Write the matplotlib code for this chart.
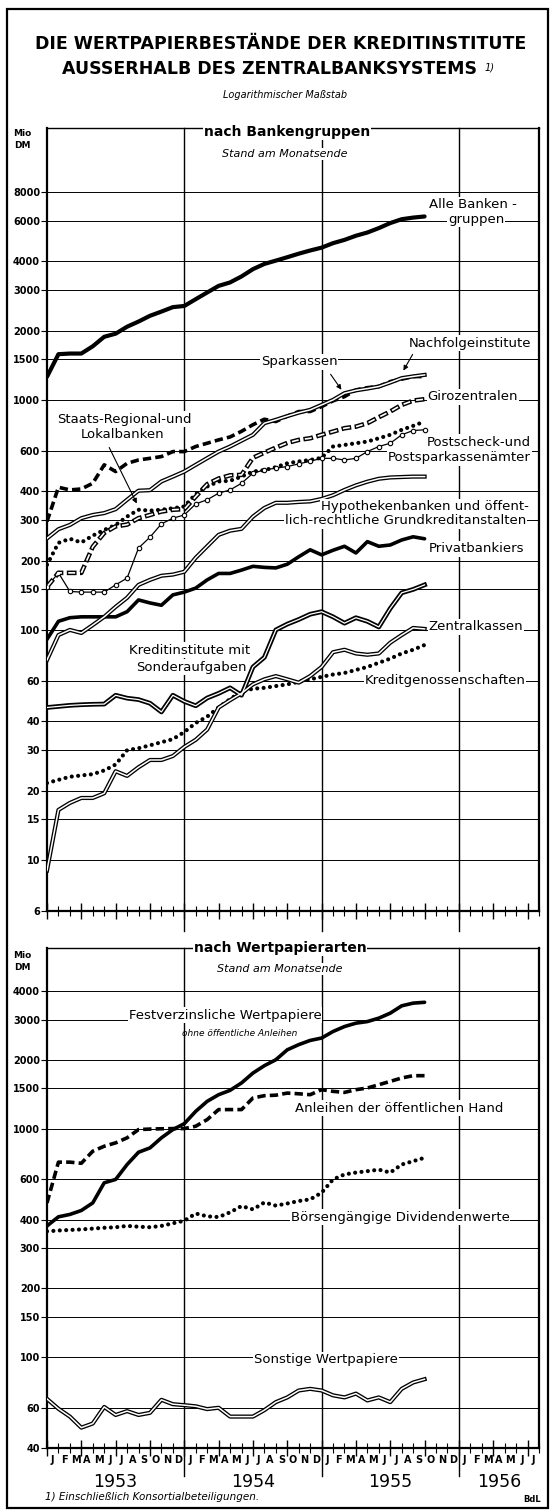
import numpy as np
import matplotlib
matplotlib.use("Agg")
import matplotlib.pyplot as plt
import matplotlib.transforms as mtransforms
from matplotlib.patches import Rectangle, FancyArrowPatch
from matplotlib.ticker import NullLocator, FixedLocator

plt.rcParams["font.family"] = ["DejaVu Sans"]
plt.rcParams["lines.scale_dashes"] = False

# -------------------------------------------------
# Daten: Monatsendstände Dez 1952 ... Sep 1955 (Mio DM)
# -------------------------------------------------
monate = np.arange(34)

# nach Bankengruppen
alle = [1260, 1580, 1590, 1590, 1710, 1880, 1940, 2080, 2190, 2320, 2420, 2530,
        2560, 2740, 2930, 3130, 3240, 3440, 3700, 3900, 4030, 4170, 4320, 4460,
        4590, 4800, 4960, 5170, 5340, 5580, 5870, 6100, 6200, 6270]
sparkassen = [250, 274, 286, 306, 316, 322, 335, 368, 403, 405, 442, 464,
              488, 522, 558, 596, 627, 665, 705, 792, 819, 850, 880, 905,
              951, 1000, 1069, 1100, 1120, 1143, 1190, 1243, 1265, 1284]
nachfolge = [296, 417, 406, 410, 434, 522, 488, 530, 548, 557, 567, 596,
             596, 627, 648, 670, 690, 730, 780, 824, 805, 850, 890, 890,
             935, 990, 1033, 1105, 1130, 1143, 1201, 1230, 1263, 1263]
girozentralen = [154, 177, 177, 177, 230, 264, 282, 287, 306, 316, 327, 333,
                 335, 380, 430, 455, 470, 472, 560, 590, 620, 650, 670, 681,
                 705, 728, 753, 765, 792, 841, 890, 951, 993, 1007]
staats = [192, 239, 249, 240, 257, 272, 286, 311, 333, 330, 333, 338,
          344, 390, 420, 442, 445, 464, 488, 495, 510, 530, 540, 548,
          560, 627, 637, 648, 659, 681, 705, 741, 771, 805]
postscheck = [154, 177, 147, 146, 146, 146, 157, 168, 227, 253, 289, 306,
              316, 353, 368, 393, 406, 434, 480, 496, 505, 513, 527, 541,
              557, 557, 548, 557, 596, 627, 648, 705, 736, 741]
hypotheken = [74, 95, 100, 97, 105, 114, 126, 138, 157, 165, 172, 174,
              179, 206, 231, 259, 270, 275, 311, 339, 357, 357, 360, 362,
              371, 385, 406, 425, 441, 454, 460, 462, 464, 464]
privat = [91, 109, 113, 114, 114, 114, 114, 120, 135, 131, 128, 142,
          146, 152, 165, 176, 176, 182, 189, 187, 186, 193, 208, 223,
          212, 222, 231, 216, 242, 231, 234, 246, 254, 249]
sonder = [46, 46.5, 47, 47.3, 47.5, 47.6, 52, 50.5, 49.8, 48, 44, 52,
          48.9, 46.8, 50.6, 53, 56, 52, 69, 76, 100, 106, 111, 117,
          120, 114, 107, 113, 109, 103, 124, 145, 150, 157]
zentral = [9, 16.5, 17.7, 18.6, 18.6, 19.5, 24.3, 23.2, 25.3, 27.2, 27.2, 28.3,
           31, 33.3, 36.9, 46, 49.5, 53, 58, 61, 63, 61, 59, 63,
           69, 80, 82, 79, 78, 79, 88, 95, 102, 101]
genossen = [21.6, 22.3, 23, 23.3, 23.6, 24.5, 26, 30, 30.6, 31.5, 32.5, 33.5,
            36, 39.4, 42, 46, 50, 54, 55.5, 56, 57, 58, 59.5, 61,
            62.5, 64, 65, 67, 69, 72, 75, 79, 82, 86]

# nach Wertpapierarten
festverz = [375, 411, 421, 438, 473, 579, 599, 696, 788, 823, 911, 990,
            1051, 1190, 1316, 1407, 1470, 1584, 1750, 1885, 2001, 2212, 2330, 2431,
            2490, 2660, 2796, 2893, 2940, 3043, 3200, 3445, 3540, 3570]
anleihen = [473, 713, 713, 705, 796, 837, 866, 911, 990, 995, 998, 1000,
            1000, 1024, 1095, 1211, 1211, 1211, 1361, 1393, 1400, 1430, 1420, 1407,
            1480, 1455, 1440, 1480, 1505, 1556, 1609, 1665, 1704, 1704]
dividenden = [355, 358, 360, 362, 365, 368, 370, 375, 372, 370, 375, 385,
              395, 425, 413, 410, 430, 458, 443, 475, 460, 470, 482, 490,
              524, 599, 630, 642, 651, 661, 642, 696, 720, 745]
sonstige = [65.6, 59.4, 54.9, 49.1, 51.2, 60.5, 55.8, 58, 55.8, 57, 65, 62.2,
            61.6, 60.9, 59.2, 60, 54.9, 54.9, 54.9, 58.6, 63.5, 66.6, 71.4, 72.6,
            71.4, 68, 66.6, 69.2, 64.6, 66.6, 63.5, 72.6, 77.4, 80]

ticks_oben = [6, 10, 15, 20, 30, 40, 60, 100, 150, 200, 300, 400, 600,
              1000, 1500, 2000, 3000, 4000, 6000, 8000]
ticks_unten = [40, 60, 100, 150, 200, 300, 400, 600, 1000, 1500, 2000, 3000, 4000]
monat_kurz = ["J", "F", "M", "A", "M", "J", "J", "A", "S", "O", "N", "D"]
jahre = ["1953", "1954", "1955", "1956"]

# -------------------------------------------------
# Figur und Achsen (Positionen in Pixel des Originals)
# -------------------------------------------------
W, H = 552, 1511
fig = plt.figure(figsize=(W / 100, H / 100), dpi=100)


def fx(x):
    return x / W


def fy(y):
    return 1 - y / H


ax1 = fig.add_axes([fx(47), fy(911), fx(539) - fx(47), fy(128) - fy(911)])
ax2 = fig.add_axes([fx(47), fy(1448), fx(539) - fx(47), fy(948) - fy(1448)])

fig.add_artist(Rectangle((fx(7), fy(1508)), fx(548) - fx(7), fy(9) - fy(1508),
                         transform=fig.transFigure, fill=False, lw=1.6, ec="k"))


def achse(ax, ymin, ymax, ticks, unten_ext):
    ax.set_yscale("log")
    ax.set_ylim(ymin, ymax)
    ax.set_xlim(0, 43)
    ax.yaxis.set_major_locator(FixedLocator(ticks))
    ax.yaxis.set_minor_locator(NullLocator())
    ax.set_yticklabels([str(t) for t in ticks])
    ax.tick_params(axis="y", direction="out", length=4, width=0.8,
                   labelsize=7, pad=1)
    for lab in ax.get_yticklabels():
        lab.set_fontweight("bold")
    ax.set_xticks(np.arange(0, 44, 3))
    ax.set_xticks(np.arange(0, 44, 1), minor=True)
    ax.tick_params(axis="x", which="major", direction="inout", length=12,
                   width=1.0, labelbottom=False)
    ax.tick_params(axis="x", which="minor", direction="inout", length=7,
                   width=0.8)
    ax.grid(axis="y", color="k", lw=0.7)
    ax.set_axisbelow(True)
    for s in ["left", "bottom", "right"]:
        ax.spines[s].set_linewidth(1.6)
    ax.spines["top"].set_linewidth(1.0)
    trans = mtransforms.blended_transform_factory(ax.transData, ax.transAxes)
    for xv in [12, 24, 36]:
        ax.plot([xv, xv], [unten_ext, 1], color="k", lw=1.0, transform=trans,
                clip_on=False, zorder=2)


achse(ax1, 6, 15200, ticks_oben, -0.025)
achse(ax2, 40, 6170, ticks_unten, -0.055)


# -------------------------------------------------
# Linienarten
# -------------------------------------------------
def voll(ax, y, lw=2.6):
    ax.plot(monate, y, color="k", lw=lw, solid_joinstyle="round",
            solid_capstyle="round", zorder=5)


def gestrichelt(ax, y):
    ax.plot(monate, y, color="k", lw=2.6, linestyle=(0, (6, 3)), zorder=5)


def punktiert(ax, y):
    ax.plot(monate, y, color="k", lw=3.0, linestyle=(0, (0.01, 4.6)),
            dash_capstyle="round", zorder=5)


def doppelt(ax, y, aussen=3.0, innen=1.1):
    ax.plot(monate, y, color="k", lw=aussen, solid_joinstyle="round", zorder=5)
    ax.plot(monate, y, color="w", lw=innen, solid_joinstyle="round", zorder=6)


def doppelt_gestrichelt(ax, y):
    ax.plot(monate, y, color="k", lw=3.3, linestyle=(0, (7, 2.5)), zorder=5)
    ax.plot(monate, y, color="w", lw=1.2, linestyle=(-1, (5, 4.5)), zorder=6)


def kreise(ax, y):
    ax.plot(monate, y, color="k", lw=0.9, marker="o", ms=3.2, mfc="w",
            mec="k", mew=0.8, zorder=5)


voll(ax1, alle, lw=3.0)
doppelt(ax1, sparkassen)
gestrichelt(ax1, nachfolge)
doppelt_gestrichelt(ax1, girozentralen)
punktiert(ax1, staats)
kreise(ax1, postscheck)
doppelt(ax1, hypotheken)
voll(ax1, privat)
doppelt(ax1, sonder, aussen=3.4, innen=0.9)
doppelt(ax1, zentral)
punktiert(ax1, genossen)

voll(ax2, festverz)
gestrichelt(ax2, anleihen)
punktiert(ax2, dividenden)
doppelt(ax2, sonstige)

# Monats- und Jahresbeschriftung unten
tr2 = mtransforms.blended_transform_factory(ax2.transData, ax2.transAxes)
for i in range(43):
    ax2.text(i + 0.5, -0.024, monat_kurz[i % 12], transform=tr2, ha="center",
             va="center", fontsize=7, fontweight="bold")
for j, jahr in enumerate(jahre):
    xm = 6 + 12 * j if j < 3 else 39.5
    ax2.text(xm, -0.068, jahr, transform=tr2, ha="center", va="center",
             fontsize=12.5)


# -------------------------------------------------
# Texte
# -------------------------------------------------
def txt(x, y, s, size=9.5, ha="center", weight="normal", style="normal", bg=True):
    box = dict(fc="w", ec="none", pad=0.8) if bg else None
    fig.text(fx(x), fy(y), s, ha=ha, va="center", fontsize=size,
             fontweight=weight, fontstyle=style, bbox=box, zorder=10)


def pfeil(x0, y0, x1, y1):
    fig.add_artist(FancyArrowPatch((fx(x0), fy(y0)), (fx(x1), fy(y1)),
                                   transform=fig.transFigure, arrowstyle="-|>",
                                   mutation_scale=7, lw=0.8, color="k", zorder=11))


txt(281, 44, "DIE WERTPAPIERBESTÄNDE DER KREDITINSTITUTE", size=12.5,
    weight="bold", bg=False)
txt(270, 69, "AUSSERHALB DES ZENTRALBANKSYSTEMS", size=12.5, weight="bold", bg=False)
txt(490, 68, "1)", size=7, style="italic", bg=False)
txt(285, 95, "Logarithmischer Maßstab", size=7, style="italic", bg=False)

txt(287, 132, "nach Bankengruppen", size=10, weight="bold")
txt(285, 154, "Stand am Monatsende", size=8, style="italic")
txt(22, 133, "Mio", size=6.5, weight="bold", bg=False)
txt(22, 146, "DM", size=6.5, weight="bold", bg=False)

txt(280, 948, "nach Wertpapierarten", size=10, weight="bold")
txt(280, 969, "Stand am Monatsende", size=8, style="italic")
txt(22, 955, "Mio", size=6.5, weight="bold", bg=False)
txt(22, 968, "DM", size=6.5, weight="bold", bg=False)

# Beschriftung der Reihen (oben)
txt(473, 205, "Alle Banken -")
txt(476, 219, "gruppen")
txt(299, 362, "Sparkassen")
txt(470, 343, "Nachfolgeinstitute")
txt(473, 397, "Girozentralen")
txt(531, 442, "Postscheck-und", ha="right")
txt(531, 458, "Postsparkassenämter", ha="right")
txt(124, 419, "Staats-Regional-und")
txt(123, 435, "Lokalbanken")
txt(529, 507, "Hypothekenbanken und öffent-", ha="right")
txt(526, 521, "lich-rechtliche Grundkreditanstalten", ha="right")
txt(476, 549, "Privatbankiers")
txt(190, 650, "Kreditinstitute mit")
txt(191, 667, "Sonderaufgaben")
txt(476, 627, "Zentralkassen")
txt(445, 680, "Kreditgenossenschaften")

pfeil(329, 372, 343, 392)
pfeil(414, 352, 402, 373)
pfeil(108, 445, 138, 506)

# Beschriftung der Reihen (unten)
txt(225, 1015, "Festverzinsliche Wertpapiere")
txt(240, 1033, "ohne öffentliche Anleihen", size=6.5, style="italic", bg=False)
txt(399, 1108, "Anleihen der öffentlichen Hand")
txt(400, 1217, "Börsengängige Dividendenwerte")
txt(326, 1360, "Sonstige Wertpapiere")

txt(45, 1497, "1) Einschließlich Konsortialbeteiligungen.", size=7.5,
    ha="left", style="italic", bg=False)
txt(532, 1500, "BdL", size=6, weight="bold", bg=False)

fig.savefig("out.png", dpi=100)
